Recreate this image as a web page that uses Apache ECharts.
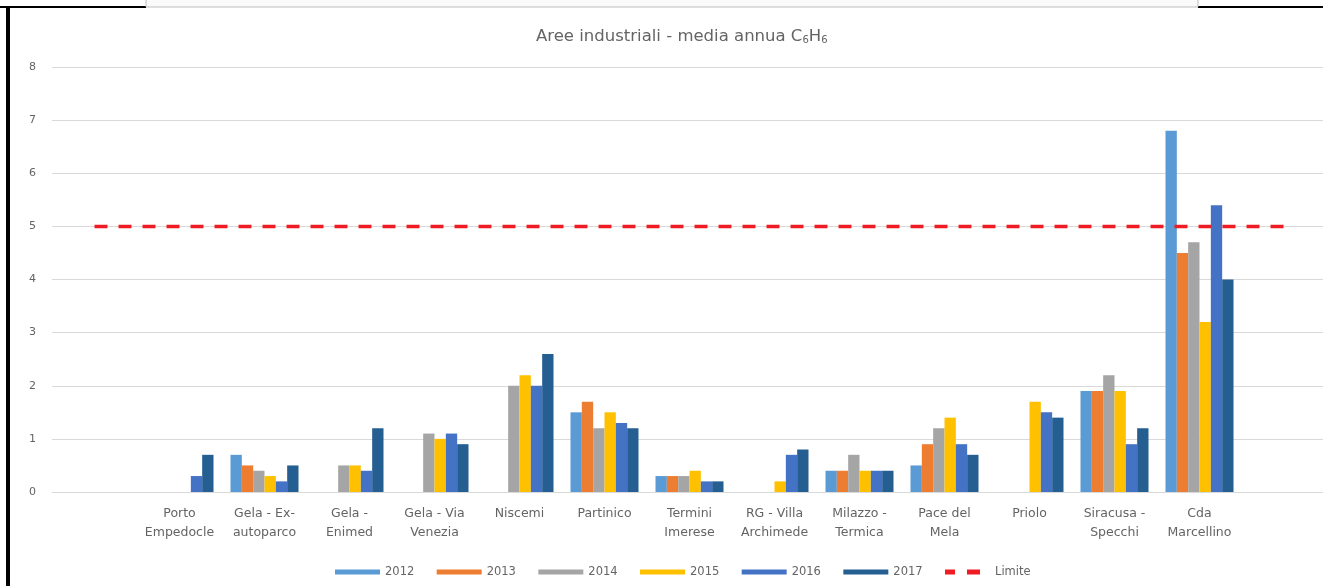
<!DOCTYPE html>
<html>
<head>
<meta charset="utf-8">
<title>Aree industriali - media annua C6H6</title>
<script src="https://cdn.jsdelivr.net/npm/echarts@6/dist/echarts.min.js"></script>
<style>
  html, body { margin: 0; padding: 0; background: #fff; }
  #chart { width: 1323px; height: 586px; }
</style>
</head>
<body>
<div id="chart"></div>
<script>
// stazioni (prima e ultima categoria vuote, come nel grafico originale)
const stazioni = ['', 'Porto\nEmpedocle', 'Gela - Ex-\nautoparco', 'Gela -\nEnimed', 'Gela - Via\nVenezia',
  'Niscemi', 'Partinico', 'Termini\nImerese', 'RG - Villa\nArchimede', 'Milazzo -\nTermica',
  'Pace del\nMela', 'Priolo', 'Siracusa -\nSpecchi', 'Cda\nMarcellino', ''];

// medie annue benzene (µg/m3)
const anno2012 = [null, null, 0.7, null, null, null, 1.5, 0.3, null, 0.4, 0.5, null, 1.9, 6.8, null];
const anno2013 = [null, null, 0.5, null, null, null, 1.7, 0.3, null, 0.4, 0.9, null, 1.9, 4.5, null];
const anno2014 = [null, null, 0.4, 0.5, 1.1, 2.0, 1.2, 0.3, null, 0.7, 1.2, null, 2.2, 4.7, null];
const anno2015 = [null, null, 0.3, 0.5, 1.0, 2.2, 1.5, 0.4, 0.2, 0.4, 1.4, 1.7, 1.9, 3.2, null];
const anno2016 = [null, 0.3, 0.2, 0.4, 1.1, 2.0, 1.3, 0.2, 0.7, 0.4, 0.9, 1.5, 0.9, 5.4, null];
const anno2017 = [null, 0.7, 0.5, 1.2, 0.9, 2.6, 1.2, 0.2, 0.8, 0.4, 0.7, 1.4, 1.2, 4.0, null];
const limite = [5, 5, 5, 5, 5, 5, 5, 5, 5, 5, 5, 5, 5, 5, 5];

const anni = ['2012', '2013', '2014', '2015', '2016', '2017'];
const valori = [anno2012, anno2013, anno2014, anno2015, anno2016, anno2017];
const colori = ['#5B9BD5', '#ED7D31', '#A5A5A5', '#FFC000', '#4472C4', '#255E91'];

const font = 'DejaVu Sans';
const grigio = '#646464';
const rosso = '#F01C24';

const chart = echarts.init(document.getElementById('chart'));

const option = {
  animation: false,
  backgroundColor: '#fff',
  textStyle: { fontFamily: font },
  title: {
    text: 'Aree industriali - media annua C{sub|6}H{sub|6}',
    left: 531,
    top: 23,
    textStyle: {
      fontFamily: font,
      fontSize: 16.5,
      fontWeight: 'normal',
      color: grigio,
      rich: {
        sub: { fontFamily: font, fontSize: 10, color: grigio, verticalAlign: 'bottom', padding: [6, 0, 0, 0] }
      }
    }
  },
  legend: {
    left: 330,
    top: 561,
    itemWidth: 45,
    itemHeight: 5,
    itemGap: 22.4,
    textStyle: { fontFamily: font, fontSize: 11.5, color: grigio },
    data: anni.map(a => ({ name: a, icon: 'rect' })).concat([{
      name: 'Limite',
      icon: 'path://M0,0h10v5h-10z M22,0h13v5h-13z M44.9,0h0.1v0.1h-0.1z',
      itemStyle: { color: rosso }
    }])
  },
  grid: {
    left: 52,
    top: 67,
    width: 1275,
    height: 425,
    outerBoundsMode: 'none'
  },
  xAxis: {
    type: 'category',
    data: stazioni,
    axisLine: { show: true, lineStyle: { color: '#D9D9D9' } },
    axisTick: { show: false },
    axisLabel: {
      interval: 0,
      color: grigio,
      fontSize: 12.5,
      lineHeight: 19,
      margin: 12,
      verticalAlign: 'top'
    }
  },
  yAxis: {
    type: 'value',
    min: 0,
    max: 8,
    interval: 1,
    axisLine: { show: false },
    axisTick: { show: false },
    axisLabel: { color: grigio, fontSize: 11, margin: 16 },
    splitLine: { lineStyle: { color: '#D9D9D9', width: 1 } }
  },
  series: anni.map((a, i) => ({
    name: a,
    type: 'bar',
    data: valori[i],
    barGap: '0%',
    barCategoryGap: '20%',
    itemStyle: { color: colori[i] }
  })).concat([{
    name: 'Limite',
    type: 'line',
    data: limite,
    symbol: 'none',
    z: 5,
    itemStyle: { color: rosso },
    lineStyle: { color: rosso, width: 3.5, type: [13, 11] }
  }]),
  graphic: [
    // cornice dello screenshot originale
    { type: 'rect', shape: { x: 0, y: 6, width: 146, height: 2 }, style: { fill: '#000' }, silent: true },
    { type: 'rect', shape: { x: 1198, y: 6, width: 125, height: 2 }, style: { fill: '#000' }, silent: true },
    { type: 'rect', shape: { x: 146, y: -1, width: 1052, height: 8 }, style: { fill: '#fafafa', stroke: '#bdbdbd', lineWidth: 1 }, silent: true },
    { type: 'rect', shape: { x: 6, y: 6, width: 4, height: 580 }, style: { fill: '#000' }, silent: true }
  ]
};

chart.setOption(option);
</script>
</body>
</html>
